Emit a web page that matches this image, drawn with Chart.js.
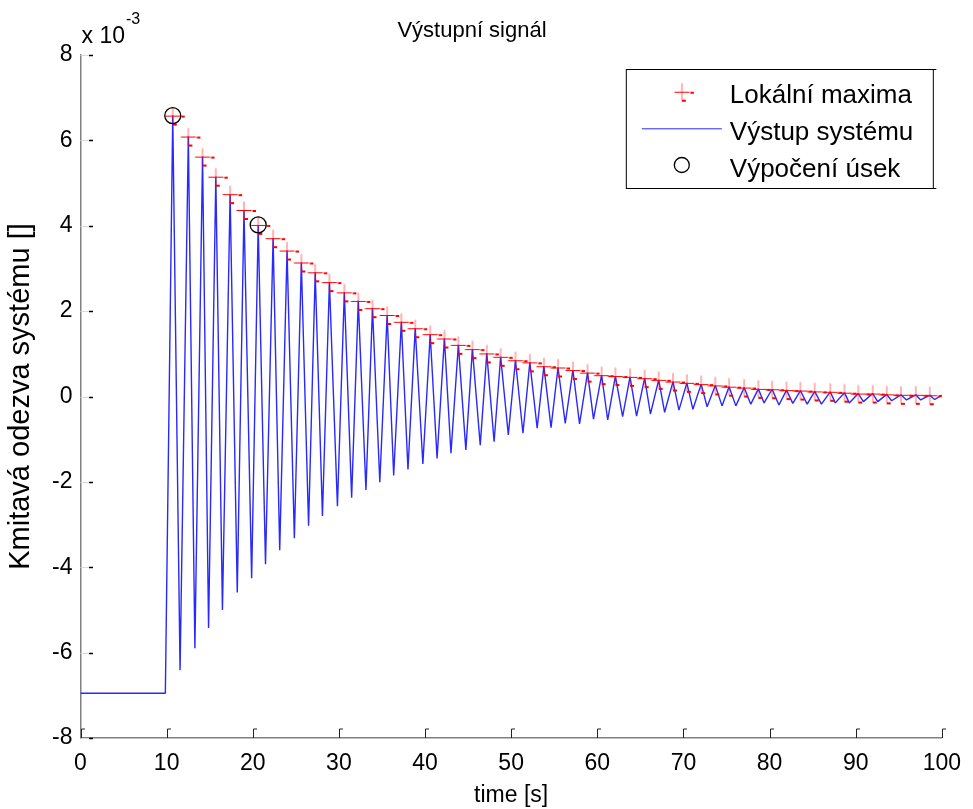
<!DOCTYPE html>
<html>
<head>
<meta charset="utf-8">
<script src="https://cdn.jsdelivr.net/npm/chart.js@4.4.1/dist/chart.umd.min.js"></script>
<style>
  html, body { margin: 0; padding: 0; background: #fff; }
  canvas { display: block; }
</style>
</head>
<body>
<canvas id="c" width="973" height="809"></canvas>
<script>
const FONT = '"Liberation Sans", Arial, Helvetica, sans-serif';

// Values are in units of 1e-3 (see the "x 10^-3" axis multiplier).

// Resting level before the excitation
const restT = [0, 9.85];
const restV = [-6.95, -6.95];

// Local maxima of the response: time [s], value
const peakT = [10.71, 12.52, 14.17, 15.71, 17.37, 18.98, 20.63, 22.36, 23.98, 25.64,
               27.25, 28.90, 30.63, 32.25, 33.90, 35.60, 37.25, 38.86, 40.60, 42.25,
               43.87, 45.50, 47.17, 48.78, 50.50, 52.17, 53.80, 55.44, 57.17, 58.87,
               60.50, 62.10, 63.80, 65.50, 67.13, 68.79, 70.40, 72.06, 73.70, 75.30,
               77.05, 78.70, 80.30, 81.97, 83.58, 85.24, 87.05, 88.70, 90.30, 91.98,
               93.60, 95.25, 96.98, 98.60];
const peakV = [6.58, 6.09, 5.62, 5.15, 4.74, 4.37, 4.02, 3.71, 3.42, 3.14,
               2.91, 2.68, 2.44, 2.24, 2.07, 1.91, 1.75, 1.60, 1.46, 1.36,
               1.21, 1.11, 1.01, 0.93, 0.85, 0.80, 0.71, 0.68, 0.62, 0.56,
               0.50, 0.48, 0.46, 0.43, 0.39, 0.35, 0.32, 0.29, 0.26, 0.23,
               0.21, 0.18, 0.17, 0.15, 0.14, 0.12, 0.11, 0.09, 0.07, 0.07,
               0.05, 0.04, 0.04, 0.03];

// Local minima, one after each maximum
const troughT = [11.56, 13.28, 14.87, 16.48, 18.20, 19.87, 21.48, 23.13, 24.83, 26.48,
                 28.09, 29.83, 31.48, 33.14, 34.75, 36.36, 38.02, 39.75, 41.40, 43.01,
                 44.74, 46.41, 48.02, 49.67, 51.37, 53.02, 54.63, 56.28, 57.94, 59.56,
                 61.21, 62.94, 64.56, 66.17, 67.82, 69.48, 71.10, 72.75, 74.48, 76.09,
                 77.82, 79.36, 81.09, 82.70, 84.37, 86.02, 87.63, 89.25, 90.90, 92.56,
                 94.17, 95.90, 97.55, 99.17];
const troughV = [-6.41, -5.90, -5.42, -5.00, -4.59, -4.26, -3.93, -3.60, -3.32, -3.03,
                 -2.80, -2.57, -2.37, -2.19, -2.01, -1.85, -1.71, -1.58, -1.45, -1.33,
                 -1.25, -1.14, -1.06, -0.90, -0.86, -0.74, -0.73, -0.63, -0.64, -0.53,
                 -0.55, -0.47, -0.46, -0.41, -0.37, -0.32, -0.30, -0.24, -0.22, -0.22,
                 -0.18, -0.15, -0.20, -0.16, -0.18, -0.18, -0.15, -0.15, -0.12, -0.12,
                 -0.10, -0.08, -0.08, -0.07];

// Last sample of the record
const endT = [100];
const endV = [0.03];

// Maxima picked for the computed section
const sectionIdx = [0, 6];

// Axis ticks
const xTickValues = [0, 10, 20, 30, 40, 50, 60, 70, 80, 90, 100];
const yTickValues = [-8, -6, -4, -2, 0, 2, 4, 6, 8];

// ---- series assembled from the arrays above ----
const responseData = restT.map((t, i) => ({ x: t, y: restV[i] }));
peakT.forEach((t, i) => {
  responseData.push({ x: t, y: peakV[i] });
  responseData.push({ x: troughT[i], y: troughV[i] });
});
endT.forEach((t, i) => responseData.push({ x: t, y: endV[i] }));

const maximaData = peakT.map((t, i) => ({ x: t, y: peakV[i] }));
const sectionData = sectionIdx.map(k => ({ x: peakT[k], y: peakV[k] }));

const BLUE = 'rgb(40,40,255)';

// '+' marker with its small trailing strokes
function maximaGlyph() {
  const c = document.createElement('canvas');
  c.width = 28; c.height = 22;
  const g = c.getContext('2d');
  const cx = 14, cy = 11;
  g.strokeStyle = '#ff0000';
  g.lineWidth = 1;
  g.beginPath(); g.moveTo(cx - 7.5, cy + 0.5); g.lineTo(cx + 7.5, cy + 0.5); g.stroke();
  g.globalAlpha = 0.6;
  g.beginPath(); g.moveTo(cx, cy - 8.5); g.lineTo(cx, cy + 8.5); g.stroke();
  g.globalAlpha = 1;
  g.lineWidth = 2;
  g.beginPath(); g.moveTo(cx + 8.5, cy + 1); g.lineTo(cx + 12, cy + 1); g.stroke();
  g.beginPath(); g.moveTo(cx, cy + 9); g.lineTo(cx + 4, cy + 9); g.stroke();
  return c;
}
const glyph = maximaGlyph();

// Inward tick marks, title, exponent and legend box
const decor = {
  id: 'decor',
  beforeDatasetsDraw(chart) {
    const { ctx, scales: { x, y }, chartArea: a } = chart;
    ctx.save();
    ctx.lineCap = 'butt';
    xTickValues.forEach(v => {
      const px = Math.round(x.getPixelForValue(v)) + 0.5;
      ctx.strokeStyle = '#222';
      ctx.lineWidth = 1;
      ctx.beginPath();
      ctx.moveTo(px, a.bottom);
      ctx.lineTo(px, a.bottom - 9);
      ctx.lineTo(px + 3.5, a.bottom - 9);
      ctx.stroke();
    });
    yTickValues.forEach(v => {
      const py = Math.round(y.getPixelForValue(v)) + 0.5;
      ctx.strokeStyle = '#d8d8d8';
      ctx.lineWidth = 1;
      ctx.beginPath(); ctx.moveTo(a.left, py); ctx.lineTo(a.left + 8.5, py); ctx.stroke();
      ctx.strokeStyle = '#000';
      ctx.lineWidth = 1.5;
      ctx.beginPath(); ctx.moveTo(a.left + 8.5, py); ctx.lineTo(a.left + 12.5, py); ctx.stroke();
    });
    ctx.restore();
  },
  afterDraw(chart) {
    const { ctx, chartArea: a } = chart;
    ctx.save();
    ctx.fillStyle = '#000';
    ctx.textBaseline = 'alphabetic';

    // title
    ctx.textAlign = 'center';
    ctx.font = '22px ' + FONT;
    ctx.fillText('Výstupní signál', 472, 37);

    // exponent of the y axis
    ctx.textAlign = 'left';
    ctx.font = '23px ' + FONT;
    ctx.fillText('x 10', a.left + 1, 43);
    const w = ctx.measureText('x 10').width;
    ctx.font = '16px ' + FONT;
    ctx.fillText('-3', a.left + 2 + w, 24);

    // legend
    const box = { left: a.right - 316, top: a.top + 14, width: 307, height: 119 };
    ctx.strokeStyle = '#000';
    ctx.lineWidth = 1;
    ctx.strokeRect(box.left + 0.5, box.top + 0.5, box.width, box.height);
    ctx.beginPath();
    ctx.moveTo(box.left + box.width, box.top + 0.5); ctx.lineTo(box.left + box.width + 3.5, box.top + 0.5);
    ctx.moveTo(box.left + box.width, box.top + box.height + 0.5); ctx.lineTo(box.left + box.width + 3.5, box.top + box.height + 0.5);
    ctx.stroke();

    const ds = chart.data.datasets;
    const sx = box.left + 56;
    const rowY = [box.top + 22.7, box.top + 59.3, box.top + 96];
    ctx.drawImage(glyph, sx - glyph.width / 2, rowY[0] - glyph.height / 2);
    ctx.strokeStyle = BLUE;
    ctx.lineWidth = 1;
    ctx.beginPath(); ctx.moveTo(box.left + 16, rowY[1] + 0.5); ctx.lineTo(box.left + 96, rowY[1] + 0.5); ctx.stroke();
    ctx.strokeStyle = '#000';
    ctx.lineWidth = 1.3;
    ctx.beginPath(); ctx.arc(sx, rowY[2], 7.5, 0, Math.PI * 2); ctx.stroke();

    ctx.font = '26px ' + FONT;
    ctx.fillStyle = '#000';
    // rows: maxima, response, computed section
    [2, 1, 0].forEach((di, r) => {
      ctx.fillText(ds[di].label, box.left + 104, box.top + 34.3 + r * 36.7);
    });
    ctx.restore();
  }
};

Chart.defaults.font.family = FONT;
Chart.defaults.color = '#000';

new Chart(document.getElementById('c'), {
  type: 'line',
  data: {
    datasets: [
      {
        label: 'Výpočení úsek',
        data: sectionData,
        showLine: false,
        pointStyle: 'circle',
        pointRadius: 8,
        pointBorderWidth: 1.3,
        pointBorderColor: '#000',
        pointBackgroundColor: 'rgba(0,0,0,0)',
        order: 0
      },
      {
        label: 'Výstup systému',
        data: responseData,
        borderColor: BLUE,
        borderWidth: 1.4,
        pointRadius: 0,
        tension: 0,
        borderJoinStyle: 'bevel',
        fill: false,
        order: 2
      },
      {
        label: 'Lokální maxima',
        data: maximaData,
        showLine: false,
        pointStyle: glyph,
        pointRadius: 7,
        order: 1
      }
    ]
  },
  options: {
    responsive: false,
    devicePixelRatio: 1,
    animation: false,
    events: [],
    layout: { padding: { top: 55, right: 26, bottom: 0, left: 0 } },
    plugins: { legend: { display: false }, tooltip: { enabled: false }, title: { display: false } },
    scales: {
      x: {
        type: 'linear',
        min: 0, max: 100,
        afterBuildTicks: s => { s.ticks = xTickValues.map(v => ({ value: v })); },
        afterFit: s => { s.height = 71; },
        grid: { display: true, drawOnChartArea: false, drawTicks: false },
        border: { display: true, color: '#808080', width: 1.5 },
        ticks: { font: { size: 23 }, color: '#000', padding: 12, maxRotation: 0, autoSkip: false },
        title: { display: true, text: 'time [s]', font: { size: 23 }, color: '#000', padding: { top: 0, bottom: 0 } }
      },
      y: {
        type: 'linear',
        min: -8, max: 8,
        afterBuildTicks: s => { s.ticks = yTickValues.map(v => ({ value: v })); },
        afterFit: s => { s.width = 80.5; },
        grid: { display: true, drawOnChartArea: false, drawTicks: false },
        border: { display: true, color: '#808080', width: 1.5 },
        ticks: { font: { size: 23 }, color: '#000', padding: 8, autoSkip: false, callback: v => String(v) },
        title: { display: true, text: 'Kmitavá odezva systému []', font: { size: 29 }, color: '#000', padding: { top: 4, bottom: 0 } }
      }
    }
  },
  plugins: [decor]
});
</script>
</body>
</html>
